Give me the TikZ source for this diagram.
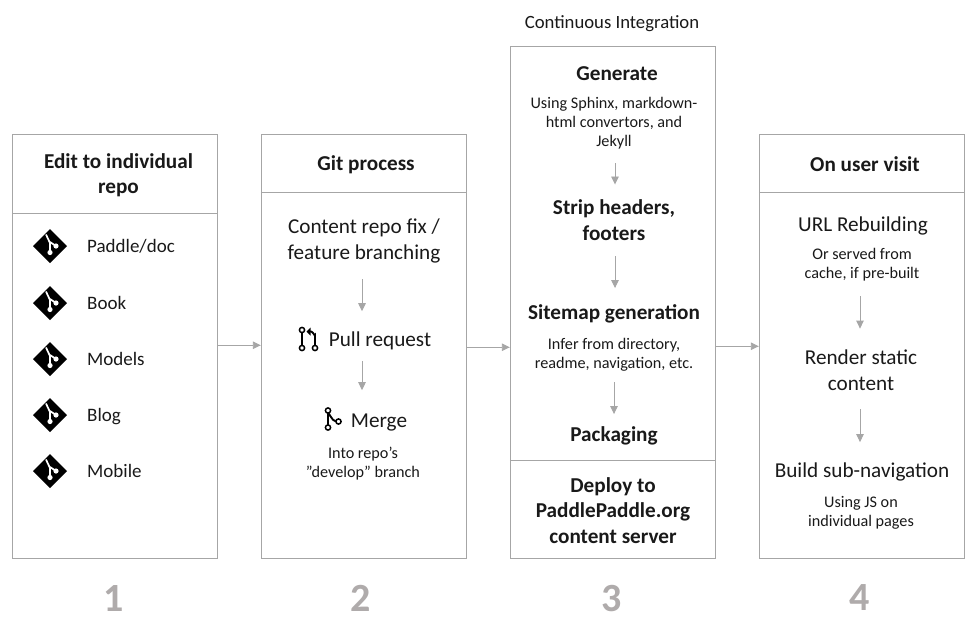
\documentclass[tikz,border=0pt]{standalone}
\usepackage{fontspec}
\setmainfont{Carlito}
\usetikzlibrary{arrows.meta,shapes.geometric}
\definecolor{boxgray}{HTML}{A6A6A6}
\definecolor{numgray}{HTML}{AFABAB}
\newcommand{\fbig}{\fontsize{21.2}{25.5}\selectfont}
\newcommand{\fitem}{\fontsize{19}{23}\selectfont}
\newcommand{\fsmall}{\fontsize{16.2}{19}\selectfont}
\tikzset{
  panel/.style={draw=boxgray,line width=0.9pt,minimum width=205pt,anchor=north west,inner sep=0pt},
  bigtext/.style={align=center,font=\fbig,text=black!90,inner sep=0pt},
  itemtext/.style={font=\fitem,text=black!90,inner sep=0pt},
  headtext/.style={align=center,font=\fbig\bfseries,text=black!90,inner sep=0pt},
  smalltext/.style={align=center,font=\fsmall,text=black!90,inner sep=0pt},
  numtext/.style={font=\fontsize{40}{40}\selectfont\bfseries,text=numgray,inner sep=0pt},
  flow/.style={draw=boxgray,line width=0.9pt,-{Triangle[length=8pt,width=7.5pt]}},
  pics/gitlogo/.style={code={
    \fill[black] (0,17)--(17,0)--(0,-17)--(-17,0)--cycle;
    \draw[white,line width=1.7pt] (-4,11.5)--(0,3)--(0,-6.5) (0,4)--(6,0);
    \fill[white] (0,-6.5) circle (2.6pt) (6,0) circle (2.6pt);
  }},
  pics/pullicon/.style={code={
    \draw[black,line width=1.9pt] (0,6.5)--(0,-6.5) (13,-6.5)--(13,4) to[out=90,in=0] (9,7.5)--(6.5,7.5);
    \fill[black] (4.5,7.5)--(8.5,11.5)--(8.5,3.5)--cycle;
    \draw[black,line width=1.5pt,fill=white] (0,9) circle (2.6pt) (0,-9) circle (2.6pt) (13,-9) circle (2.6pt);
  }},
  pics/mergeicon/.style={code={
    \draw[black,line width=1.9pt] (0,6.5)--(0,-6.5) (0,5) to[out=-90,in=180] (8,-2.5);
    \draw[black,line width=1.5pt,fill=white] (0,8.5) circle (2.6pt) (0,-8.5) circle (2.6pt) (10.5,-2.5) circle (2.6pt);
  }},
}
\begin{document}
\begin{tikzpicture}[x=1pt,y=-1pt,>=Latex]
\useasboundingbox (0,0) rectangle (979,624);
% panels
\node[panel,minimum height=424pt] (box1) at (11.8,133.8) {};
\node[panel,minimum height=424pt] (box2) at (260.8,133.8) {};
\node[panel,minimum height=512pt] (box3) at (509.8,45.8) {};
\node[panel,minimum height=424pt] (box4) at (758.8,133.8) {};
\draw[boxgray,line width=0.9pt] (box1.west|-0,213.5)--(box1.east|-0,213.5);
\draw[boxgray,line width=0.9pt] (box2.west|-0,192.5)--(box2.east|-0,192.5);
\draw[boxgray,line width=0.9pt] (box3.west|-0,460.5)--(box3.east|-0,460.5);
\draw[boxgray,line width=0.9pt] (box4.west|-0,192.5)--(box4.east|-0,192.5);
\draw[flow] ([yshift=1pt]box1.east)--([yshift=1pt]box2.west);
\draw[flow] ([yshift=-1pt]box2.east)--([yshift=-1pt]box2.east-|box3.west);
\draw[flow] (box4.west-|box3.east)--(box4.west);
% box 1
\node[headtext] (edit) at (118.5,175) {Edit to individual\\repo};
\foreach \name/\lab/\ypos/\ytext in {paddle/Paddle\slash doc/246/246,book/Book/303/303,models/Models/359/359,blog/Blog/415/416.5,mobile/Mobile/471/471}{
  \pic at (50,\ypos) [yscale=-1] {gitlogo};
  \node[itemtext,anchor=west] (\name) at (87,\ytext) {\lab};
}
% box 2
\node[headtext] (git) at (366,165) {Git process};
\node[bigtext] (fix) at (364,241) {Content repo fix /\\feature branching};
\node[bigtext] (pull) at (380,341) {Pull request};
\pic at (302,339) [yscale=-1] {pullicon};
\node[bigtext] (merge) at (379,422.5) {Merge};
\pic at (328,419) [yscale=-1] {mergeicon};
\node[smalltext] (into) at (363,463.5) {Into repo’s\\”develop” branch};
\draw[flow,shorten <=16pt,shorten >=20.5pt] ([xshift=-2pt]fix.south)--([xshift=-2pt]fix.south|-pull.north);
\draw[flow,shorten <=10.5pt,shorten >=23.5pt] ([xshift=-18pt]pull.south)--([xshift=-18pt]pull.south|-merge.north);
% box 3
\node[font=\fontsize{18.7}{22}\selectfont,text=black!90,inner sep=0pt] (ci) at (612,23.5) {Continuous Integration};
\node[headtext] (gen) at (617,74) {Generate};
\node[smalltext] (sphinx) at (614,123) {Using Sphinx, markdown-\\html convertors, and\\Jekyll};
\node[headtext] (strip) at (614,220) {Strip headers,\\footers};
\node[headtext] (site) at (614,314) {Sitemap generation};
\node[smalltext] (infer) at (614,354.5) {Infer from directory,\\readme, navigation, etc.};
\node[headtext] (pack) at (614,436) {Packaging};
\node[headtext] (deploy) at (613,510.5) {Deploy to\\PaddlePaddle.org\\content server};
\draw[flow,shorten <=14pt,shorten >=15pt] ([xshift=1pt]sphinx.south)--([xshift=1pt]sphinx.south|-strip.north);
\draw[flow,shorten <=16pt,shorten >=16.5pt] ([xshift=1pt]strip.south)--([xshift=1pt]strip.south|-site.north);
\draw[flow,shorten <=11pt,shorten >=12.5pt] (infer.south)--(infer.south|-pack.north);
% box 4
\node[headtext] (visit) at (865,164.5) {On user visit};
\node[bigtext] (url) at (863,226) {URL Rebuilding};
\node[smalltext] (cache) at (862,264.5) {Or served from\\cache, if pre-built};
\node[bigtext] (render) at (861,370) {Render static\\content};
\node[bigtext] (subnav) at (862,472) {Build sub-navigation};
\node[smalltext] (js) at (861,512.5) {Using JS on\\individual pages};
\draw[flow,shorten <=15pt,shorten >=21pt] ([xshift=-2pt]cache.south)--([xshift=-2pt]cache.south|-render.north);
\draw[flow,shorten <=19pt,shorten >=20.5pt] ([xshift=-1pt]render.south)--([xshift=-1pt]render.south|-subnav.north);
% numbers
\node[numtext] (n1) at (114,599) {1};
\node[numtext] (n2) at (361,598) {2};
\node[numtext] (n3) at (612,599) {3};
\node[numtext] (n4) at (860,598) {4};
\end{tikzpicture}
\end{document}
